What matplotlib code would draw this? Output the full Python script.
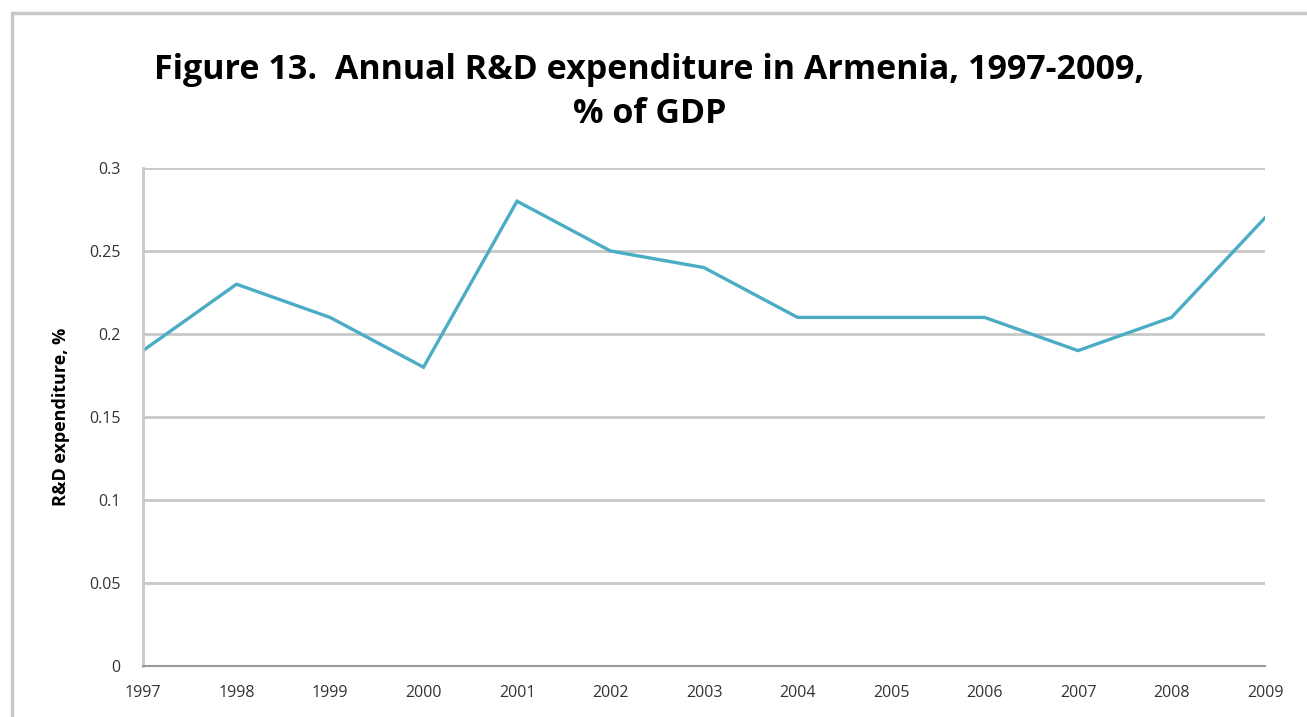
import matplotlib
matplotlib.use("Agg")
import matplotlib.pyplot as plt
from matplotlib.patches import Rectangle

# data
years = [1997, 1998, 1999, 2000, 2001, 2002, 2003, 2004, 2005, 2006, 2007, 2008, 2009]
rd_share = [0.19, 0.23, 0.21, 0.18, 0.28, 0.25, 0.24, 0.21, 0.21, 0.21, 0.19, 0.21, 0.27]
y_ticks = [0, 0.05, 0.1, 0.15, 0.2, 0.25, 0.3]
y_tick_labels = ["0", "0.05", "0.1", "0.15", "0.2", "0.25", "0.3"]

plt.rcParams['font.family'] = ['Open Sans', 'DejaVu Sans']

fig = plt.figure(figsize=(13.07, 7.17), dpi=100)
ax = fig.add_axes([0.1094, 0.0711, 0.8585, 0.6946])

# outer chart frame (cropped at right/bottom in the reference)
fig.patches.append(Rectangle((12 / 1307, -0.05), 1.2, 1 - 13 / 717 + 0.05,
                             transform=fig.transFigure, fill=False,
                             edgecolor='#c8c8c8', linewidth=2.5))

ax.plot(years, rd_share, color='#4bacc6', linewidth=2.4, solid_joinstyle='miter')

ax.set_xlim(years[0], years[-1])
ax.set_ylim(0, 0.3)
ax.set_xticks(years)
ax.set_xticklabels([str(y) for y in years], fontsize=11.5, color='#333333')
ax.set_yticks(y_ticks)
ax.set_yticklabels(y_tick_labels, fontsize=11.5, color='#333333')
ax.tick_params(length=0)
ax.tick_params(axis='y', pad=16)
ax.tick_params(axis='x', pad=14)

ax.grid(axis='y', color='#c8c8c8', linewidth=2)
ax.set_axisbelow(True)
for s in ['top', 'right']:
    ax.spines[s].set_visible(False)
ax.spines['left'].set_color('#c8c8c8')
ax.spines['left'].set_linewidth(2)
ax.spines['bottom'].set_color('#9a9a9a')
ax.spines['bottom'].set_linewidth(1.5)

ax.set_ylabel("R&D expenditure, %", fontsize=13, fontweight='bold', labelpad=14)

fig.text(0.497, 0.872, "Figure 13.  Annual R&D expenditure in Armenia, 1997-2009,\n% of GDP",
         ha='center', va='center', fontsize=24.5, fontweight='bold', linespacing=1.4)

fig.savefig("out.png", dpi=100)
